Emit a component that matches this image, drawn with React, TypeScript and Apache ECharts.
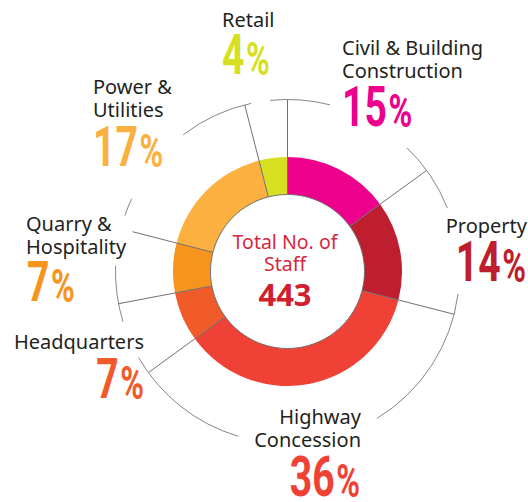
import React, { useEffect, useRef } from 'react';
import * as echarts from 'echarts';

// ---- data ----
const CATEGORIES = [
  'Civil & Building\nConstruction',
  'Property',
  'Highway\nConcession',
  'Headquarters',
  'Quarry &\nHospitality',
  'Power &\nUtilities',
  'Retail',
];
const PERCENTS = [15, 14, 36, 7, 7, 17, 4];
const TOTAL_STAFF = 443;
const CENTER_TITLE = 'Total No. of\nStaff';

// ---- styles / layout ----
const COLORS = ['#ec008c', '#be1e2d', '#ef4136', '#f15a29', '#f7941d', '#fbb040', '#d7df23'];
const CX = 287.5;
const CY = 271.5;
const R_IN = 77;
const R_OUT = 114.5;
const R_RING = 172;
const LINE_COLOR = '#707173';
// radius at which each boundary line (after slice i) ends
const BOUNDARY_END = [R_RING, R_RING, R_RING, R_RING, 160, R_RING, R_RING];
// outer ring pieces, degrees clockwise from 12 o'clock
const RING_ARCS: [number, number][] = [
  [322.7, 347.8],
  [354.2, 374.3],
  [44, 68.4],
  [97.5, 148.7],
  [196.7, 240],
  [253, 272],
  [289, 295],
];
// name labels: x, cap-top y, align
const NAME_POS: { x: number; y: number; align: 'left' | 'right' }[] = [
  { x: 342, y: 41, align: 'left' },
  { x: 527, y: 219, align: 'right' },
  { x: 361, y: 410, align: 'right' },
  { x: 144, y: 335, align: 'right' },
  { x: 26, y: 217, align: 'left' },
  { x: 93, y: 80, align: 'left' },
  { x: 222, y: 13, align: 'left' },
];
// percent labels: x, digit-top y, align
const PCT_POS: { x: number; y: number; align: 'left' | 'right' }[] = [
  { x: 342, y: 92, align: 'left' },
  { x: 526, y: 247, align: 'right' },
  { x: 360, y: 462, align: 'right' },
  { x: 144, y: 364, align: 'right' },
  { x: 27, y: 267, align: 'left' },
  { x: 93, y: 132, align: 'left' },
  { x: 222, y: 40, align: 'left' },
];

const NAME_FS = 20;
const NAME_LH = 23.5;
const NUM_FS = 56;
const NUM_LH = 44;
const PCT_FS = 46;
const PCT_LH = 36;
const NUM_SCALE = 0.7;

function polar(deg: number, r: number) {
  const a = (deg * Math.PI) / 180;
  return [CX + r * Math.sin(a), CY - r * Math.cos(a)];
}

export default function App() {
  const ref = useRef<HTMLDivElement>(null);
  useEffect(() => {
    if (!ref.current) return;
    const chart = echarts.init(ref.current, undefined, { renderer: 'svg' });
    const sum = PERCENTS.reduce((a, b) => a + b, 0);
    const elements: any[] = [];

    // inner outline
    elements.push({
      type: 'circle',
      shape: { cx: CX, cy: CY, r: R_IN },
      style: { fill: 'none', stroke: LINE_COLOR, lineWidth: 1 },
      z: 10,
      silent: true,
    });

    // boundary lines
    let acc = 0;
    PERCENTS.forEach((v, i) => {
      acc += v;
      const deg = (acc / sum) * 360;
      const [x1, y1] = polar(deg, R_IN);
      const [x2, y2] = polar(deg, BOUNDARY_END[i]);
      elements.push({
        type: 'line',
        shape: { x1, y1, x2, y2 },
        style: { stroke: LINE_COLOR, lineWidth: 1 },
        z: 10,
        silent: true,
      });
    });

    // ring arcs
    RING_ARCS.forEach(([a, b]) => {
      elements.push({
        type: 'arc',
        shape: {
          cx: CX,
          cy: CY,
          r: R_RING,
          startAngle: ((a - 90) * Math.PI) / 180,
          endAngle: ((b - 90) * Math.PI) / 180,
          clockwise: true,
        },
        style: { stroke: '#858689', lineWidth: 1, fill: 'none' },
        z: 10,
        silent: true,
      });
    });

    // name labels
    CATEGORIES.forEach((name, i) => {
      const p = NAME_POS[i];
      elements.push({
        type: 'text',
        x: p.x,
        y: p.y - 5.3,
        z: 20,
        silent: true,
        style: {
          text: name,
          fontFamily: '"Noto Sans", sans-serif',
          fontSize: NAME_FS,
          lineHeight: NAME_LH,
          fill: '#231f20',
          align: p.align,
          verticalAlign: 'top',
        },
      });
    });

    // percent labels
    PERCENTS.forEach((v, i) => {
      const p = PCT_POS[i];
      elements.push({
        type: 'text',
        x: p.x,
        y: p.y - 1.3,
        scaleX: NUM_SCALE,
        z: 20,
        silent: true,
        style: {
          text: `{n|${v}}{p|%}`,
          align: p.align,
          verticalAlign: 'top',
          rich: {
            n: {
              fontFamily: 'Roboto, sans-serif',
              fontWeight: 'bold',
              fontSize: NUM_FS,
              lineHeight: NUM_LH,
              fill: COLORS[i],
              verticalAlign: 'bottom',
            },
            p: {
              fontFamily: 'Roboto, sans-serif',
              fontWeight: 'bold',
              fontSize: PCT_FS,
              lineHeight: PCT_LH,
              fill: COLORS[i],
              verticalAlign: 'bottom',
              padding: [0, 0, 0, 2],
            },
          },
        },
      });
    });

    // center text
    elements.push({
      type: 'text',
      x: 285,
      y: 235 - 4.5,
      z: 20,
      silent: true,
      style: {
        text: CENTER_TITLE,
        fontFamily: '"Noto Sans", sans-serif',
        fontSize: 19.5,
        lineHeight: 22,
        fill: '#d7263d',
        align: 'center',
        verticalAlign: 'top',
      },
    });
    elements.push({
      type: 'text',
      x: 285,
      y: 294,
      z: 20,
      silent: true,
      style: {
        text: String(TOTAL_STAFF),
        fontFamily: '"Noto Sans", sans-serif',
        fontWeight: 'bold',
        fontSize: 31,
        lineHeight: 24,
        fill: '#d0202e',
        align: 'center',
        verticalAlign: 'middle',
      },
    });

    chart.setOption({
      animation: false,
      backgroundColor: '#ffffff',
      series: [
        {
          type: 'pie',
          center: [CX, CY],
          radius: [R_IN, R_OUT],
          startAngle: 90,
          clockwise: true,
          silent: true,
          label: { show: false },
          labelLine: { show: false },
          itemStyle: { borderWidth: 0 },
          emphasis: { disabled: true },
          data: CATEGORIES.map((name, i) => ({
            name,
            value: PERCENTS[i],
            itemStyle: { color: COLORS[i] },
          })),
        },
      ],
      graphic: { elements },
    });
    return () => chart.dispose();
  }, []);
  return (
    <div
      ref={ref}
      style={{ position: 'fixed', left: 0, top: 0, width: 528, height: 502 }}
    />
  );
}
